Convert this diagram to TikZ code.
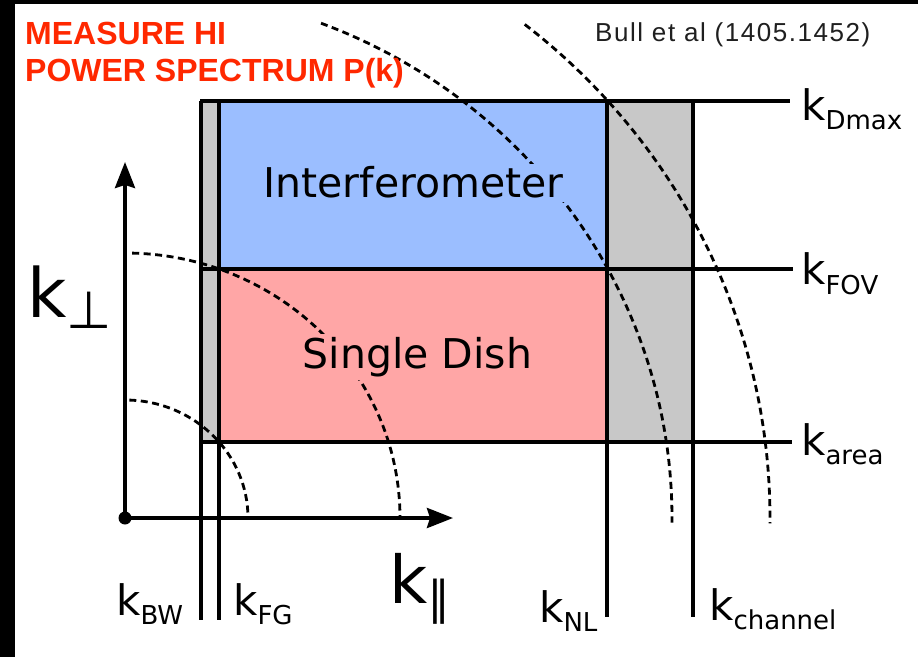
\documentclass[tikz,border=0pt]{standalone}
\usepackage{fontspec}
\setmainfont{DejaVu Sans}
\newfontfamily\ttlfont{Liberation Sans}
\newfontfamily\citefont[LetterSpace=6]{Liberation Sans}
\usetikzlibrary{arrows.meta}
\definecolor{ifblue}{RGB}{155,190,255}
\definecolor{sdpink}{RGB}{255,166,166}
\definecolor{cutgray}{RGB}{200,200,200}
\definecolor{alarm}{RGB}{255,40,0}
\tikzset{
  wall/.style={line width=3.6pt},
  shell/.style={line width=2.8pt,dash pattern=on 7pt off 4.5pt},
  kaxis/.style={line width=3.6pt,-{Stealth[length=26pt,width=20pt,inset=3pt]}},
  region/.style={inner sep=3pt,anchor=base,font=\fontsize{41}{41}\selectfont},
  klab/.style={inner sep=0pt,anchor=base west,font=\fontsize{42}{42}\selectfont},
  biglab/.style={inner sep=0pt,anchor=base west},
  ttl/.style={inner sep=0pt,anchor=base west,text=alarm,font=\ttlfont\bfseries\fontsize{32}{37}\selectfont},
}
\newcommand{\ksub}[1]{k\raisebox{-9pt}{\fontsize{26}{26}\selectfont #1}}

\begin{document}
\begin{tikzpicture}[x=1pt,y=1pt]
  % frame
  \fill[white] (0,0) rectangle (918,657);
  \useasboundingbox (0,0) rectangle (918,657);
  \fill[black] (0,653) rectangle (918,657);
  \fill[black] (0,0) rectangle (15,657);

  \coordinate (O) at (125,139);

  % regions
  \fill[cutgray] (201,215) rectangle (219,556);
  \fill[ifblue] (219,388) rectangle (607,556);
  \fill[sdpink] (219,215) rectangle (607,388);
  \fill[cutgray] (607,215) rectangle (693,556);

  % scale lines
  \coordinate (dmaxL) at (200,556);  \coordinate (dmaxR) at (790,556);
  \coordinate (fovL) at (200,388);   \coordinate (fovR) at (793,388);
  \coordinate (areaL) at (201,215);  \coordinate (areaR) at (792,215);
  \coordinate (bwT) at (201,556);    \coordinate (bwB) at (201,37);
  \coordinate (fgT) at (219,556);    \coordinate (fgB) at (219,37);
  \coordinate (nlT) at (607,556);    \coordinate (nlB) at (607,40);
  \coordinate (chT) at (693,556);    \coordinate (chB) at (693,40);
  \draw[wall] (dmaxL) -- (dmaxR);
  \draw[wall] (fovL) -- (fovR);
  \draw[wall] (areaL) -- (areaR);
  \draw[wall] (bwT) -- (bwB);
  \draw[wall] (fgT) -- (fgB);
  \draw[wall] (nlT) -- (nlB);
  \draw[wall] (chT) -- (chB);

  % axes
  \coordinate (yTip) at (125,495);
  \coordinate (xTip) at (453,139);
  \draw[kaxis] (O) -- (yTip);
  \draw[kaxis] (O) -- (xTip);
  \fill (O) circle (6.5);

  % |k| shells
  \draw[shell] (O) ++(88:123pt and 118pt) arc[start angle=88,end angle=0,x radius=123pt,y radius=118pt];
  \draw[shell] (O) ++(88.5:275pt and 265pt) arc[start angle=88.5,end angle=0,x radius=275pt,y radius=265pt];
  \draw[shell] (O) ++(69:547pt and 530pt) arc[start angle=69,end angle=-0.5,x radius=547pt,y radius=530pt];
  \draw[shell] (O) ++(51.7:645pt and 629pt) arc[start angle=51.7,end angle=-0.5,x radius=645pt,y radius=629pt];

  % labels
  \node[region,fill=ifblue] (ifm) at (413.5,459) {Interferometer};
  \node[region,fill=sdpink] (sd) at (417.5,289) {Single Dish};

  \node[klab] (kdmax) at (801,536) {\ksub{Dmax}};
  \node[klab] (kfov) at (801,372) {\ksub{FOV}};
  \node[klab] (karea) at (801,202) {\ksub{area}};
  \node[klab] (kbw) at (116,42) {\ksub{BW}};
  \node[klab] (kfg) at (233,42) {\ksub{FG}};
  \node[klab] (knl) at (539,35) {\ksub{NL}};
  \node[klab] (kch) at (709,37) {\ksub{channel}};

  \node[biglab] (kperp) at (27,340) {{\fontsize{68}{68}\selectfont k}\raisebox{-11pt}{\fontsize{52}{52}\selectfont ⊥}};
  \node[biglab] (kpar) at (389,54) {{\fontsize{66}{66}\selectfont k}\raisebox{-11pt}{\fontsize{46}{46}\selectfont ∥}};

  \node[ttl] (ttl1) at (25,612) {MEASURE HI};
  \node[ttl] (ttl2) at (25,575) {POWER SPECTRUM P(k)};
  \node[inner sep=0pt,anchor=base west,text=black!88,font=\citefont\fontsize{26}{26}\selectfont] (cite) at (595,615) {Bull et al (1405.1452)};
\end{tikzpicture}
\end{document}
